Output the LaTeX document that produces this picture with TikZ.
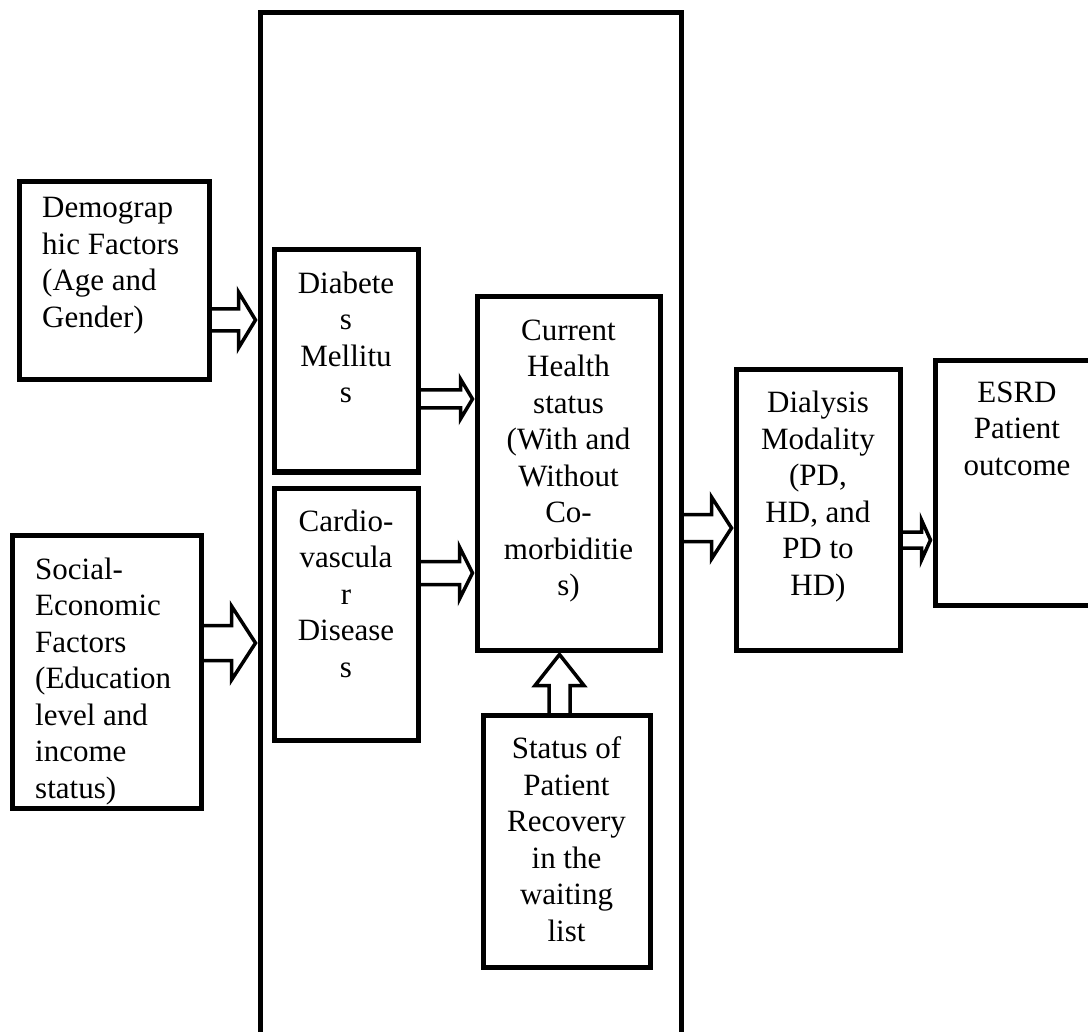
\documentclass[tikz,border=0pt]{standalone}
\usepackage{fontspec}
\setmainfont{Liberation Serif}
\usetikzlibrary{calc}
\newcommand\hblock[5]{\draw[blockarrow] let \p1=(#1), \p2=(#2) in
 (\x1,\y1+#3pt) -- (\x2-#5pt-4.5pt,\y1+#3pt) -- (\x2-#5pt-4.5pt,\y1+#4pt) -- (\x2-4.5pt,\y1)
 -- (\x2-#5pt-4.5pt,\y1-#4pt) -- (\x2-#5pt-4.5pt,\y1-#3pt) -- (\x1,\y1-#3pt) -- cycle;}
\newcommand\vblock[5]{\draw[blockarrow] let \p1=(#1), \p2=(#2) in
 (\x1+#3pt,\y1) -- (\x1+#3pt,\y2-4.5pt-#5pt) -- (\x1+#4pt,\y2-4.5pt-#5pt) -- (\x1,\y2-4.5pt)
 -- (\x1-#4pt,\y2-4.5pt-#5pt) -- (\x1-#3pt,\y2-4.5pt-#5pt) -- (\x1-#3pt,\y1) -- cycle;}
\begin{document}
\begin{tikzpicture}[x=1pt,y=-1pt,
 frame/.style={inner sep=0pt, outer sep=0pt},
 txt/.style={font=\fontsize{31}{36.5}\selectfont, inner sep=0pt, anchor=north, align=center},
 txtl/.style={txt, anchor=north west, align=left},
 blockarrow/.style={draw, fill=white, line width=3.5pt, line join=miter}]
\useasboundingbox (0,0) rectangle (1088,1032);
\clip (0,0) rectangle (1088,1032);

\path
 node[frame, minimum width=190pt, minimum height=198pt] (demo) at (114,281) {}
 node[frame, minimum width=188.5pt, minimum height=273pt] (socio) at (106.75,671.5) {}
 node[frame, minimum width=421pt, minimum height=1032pt] (big) at (470.5,529) {}
 node[frame, minimum width=144pt, minimum height=222pt] (diab) at (346,361) {}
 node[frame, minimum width=144pt, minimum height=252pt] (cardio) at (346,614) {}
 node[frame, minimum width=183pt, minimum height=353pt] (ch) at (568.5,473.5) {}
 node[frame, minimum width=167pt, minimum height=252pt] (stat) at (566.5,841) {}
 node[frame, minimum width=164pt, minimum height=280pt] (dial) at (818,510) {}
 node[frame, minimum width=165pt, minimum height=244pt] (esrd) at (1017.5,483) {};

\coordinate (a1) at ([yshift=-39pt]demo.east);
\coordinate (a2) at ([yshift=28.5pt]socio.east);
\coordinate (a3) at ([yshift=-38pt]diab.east);
\coordinate (a4) at ([yshift=41pt]cardio.east);
\coordinate (a5) at ([yshift=1pt]big.east);
\coordinate (a6) at ([yshift=-30pt]dial.east);
\coordinate (a7) at ([xshift=-7pt]stat.north);

\hblock{a1}{big.west |- a1}{11}{28}{17}
\hblock{a2}{big.west |- a2}{17.5}{37}{24}
\hblock{a3}{ch.west |- a3}{9}{20}{12}
\hblock{a4}{ch.west |- a4}{11.5}{26}{13}
\hblock{a5}{dial.west |- a5}{13.5}{31}{20}
\hblock{a6}{esrd.west |- a6}{8}{20}{9}
\vblock{a7}{ch.south -| a7}{10.5}{24.5}{31}

\foreach \b in {demo,socio,big,diab,cardio,ch,stat,dial,esrd}
  \draw[line width=5pt] (\b.south west) rectangle (\b.north east);

\node[txtl] (demo-t) at (42,197.5) {Demograp\\hic Factors\\(Age and\\Gender)};
\node[txtl] (socio-t) at (35,557.5) {Social-\\Economic\\Factors\\(Education\\level and\\income\\status)};
\node[txt] (diab-t) at (346,271.5) {Diabete\\s\\Mellitu\\s};
\node[txt] (cardio-t) at (346,509.5) {Cardio-\\vascula\\r\\Disease\\s};
\node[txt] (ch-t) at (568.5,319.5) {Current\\Health\\status\\(With and\\Without\\Co-\\morbiditie\\s)};
\node[txt] (stat-t) at (566.5,736.5) {Status of\\Patient\\Recovery\\in the\\waiting\\list};
\node[txt] (dial-t) at (818,391) {Dialysis\\Modality\\(PD,\\HD, and\\PD to\\HD)};
\node[txt] (esrd-t) at (1017,381.5) {ESRD\\Patient\\outcome};
\end{tikzpicture}
\end{document}
